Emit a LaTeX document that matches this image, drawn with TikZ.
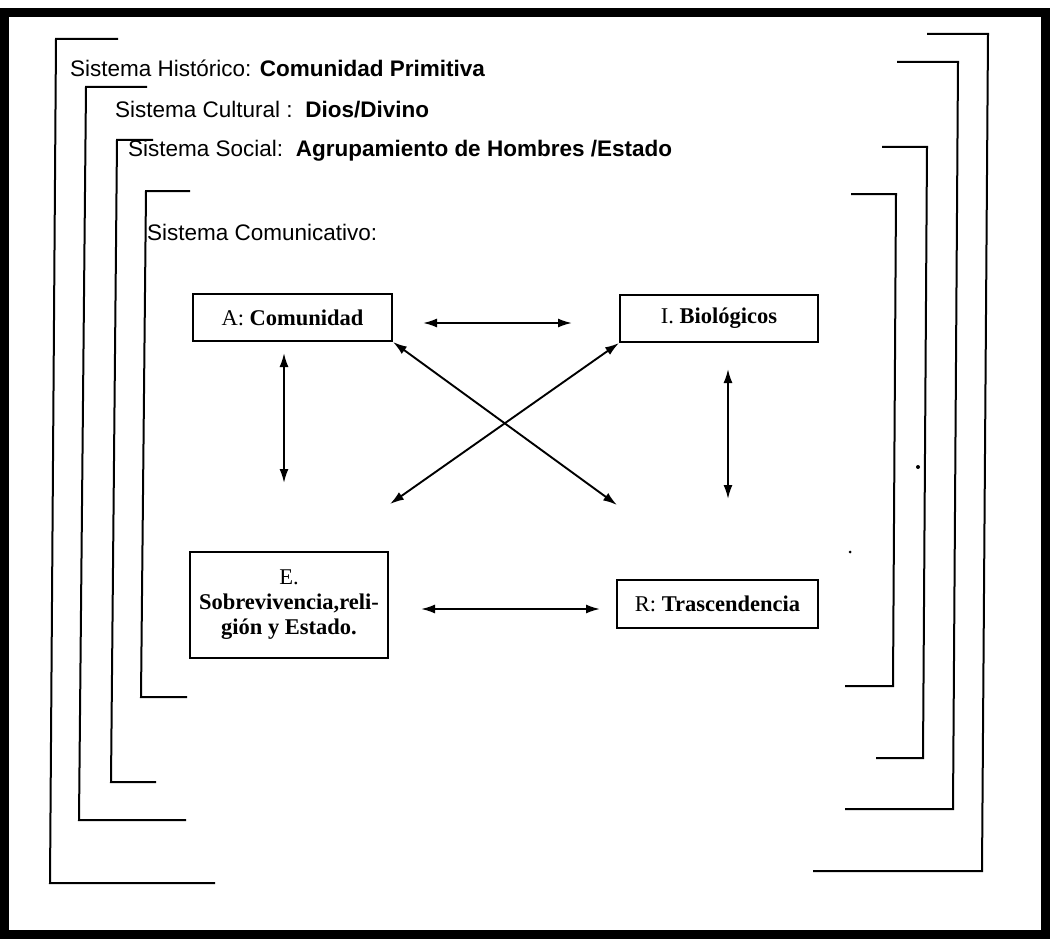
\documentclass[tikz,border=0pt]{standalone}
\usepackage{fontspec}
\setmainfont{Liberation Serif}
\setsansfont{Liberation Sans}
\usetikzlibrary{arrows.meta}

\begin{document}
\begin{tikzpicture}[
		x=1pt, y=-1pt,
		caja/.style={draw, line width=2pt, inner sep=0pt, align=center,
			font=\fontsize{22.5}{25}\selectfont},
		titulo/.style={anchor=base west, inner sep=0pt,
			font=\sffamily\fontsize{22.5}{27}\selectfont},
		flecha/.style={{Latex[length=14pt,width=9pt]}-{Latex[length=14pt,width=9pt]},
			line width=1.9pt},
		corchete/.style={line width=2pt}
		]
		\useasboundingbox (0,0) rectangle (1055,939);
		\draw[line width=9pt] (4.5,12.5) rectangle (1045,934);

		% corchetes de los sistemas (izquierda)
		\draw[corchete] (118,39) -- (56,39) -- (50,883) -- (215,883);
		\draw[corchete] (147,87) -- (86,87) -- (79,820) -- (186,820);
		\draw[corchete] (153,140) -- (117,140) -- (111,782) -- (156,782);
		\draw[corchete] (190,191) -- (146,191) -- (141,697) -- (187,697);
		% corchetes de los sistemas (derecha)
		\draw[corchete] (927,34) -- (988,34) -- (982,871) -- (813,871);
		\draw[corchete] (897,62) -- (958,62) -- (953,809) -- (845,809);
		\draw[corchete] (882,147) -- (927,147) -- (923,758) -- (876,758);
		\draw[corchete] (851,194) -- (896,194) -- (893,686) -- (845,686);

		\node[titulo] (hist) at (70,77) {Sistema Histórico: \textbf{Comunidad Primitiva}};
		\node[titulo] (cult) at (115,118) {Sistema Cultural :\ \ \textbf{Dios/Divino}};
		\node[titulo] (soc) at (128,157) {Sistema Social:\ \ \textbf{Agrupamiento de Hombres /Estado}};
		\node[titulo] (com) at (147,240) {Sistema Comunicativo:};

		\node[caja, minimum width=199pt, minimum height=47pt] (A) at (292.5,317.5) {A: \textbf{Comunidad}};
		\node[caja, minimum width=198pt, minimum height=47pt] (I) at (719,318.5) {I. \textbf{Biológicos}};
		\node[caja, minimum width=198pt, minimum height=106pt] (E) at (289,605)
			{E.\\ \textbf{Sobrevivencia,reli-}\\ \textbf{gión y Estado.}};
		\node[caja, minimum width=201pt, minimum height=48pt] (R) at (717.5,604) {R: \textbf{Trascendencia}};

		\coordinate (xl) at (390,504);
		\coordinate (xr) at (617,505);

		\draw[flecha, shorten <=30pt, shorten >=47pt] ([yshift=-5.5pt]A.east) -- ([yshift=-4.5pt]I.west);
		\draw[flecha, shorten <=32pt, shorten >=16pt] ([yshift=-4pt]E.east) -- ([yshift=-5pt]R.west);
		\draw[flecha, shorten <=11pt, shorten >=68pt] ([xshift=-8.5pt]A.south) -- ([xshift=-5pt]E.north);
		\draw[flecha, shorten <=26pt, shorten >=80pt] ([xshift=9pt]I.south) -- ([xshift=10.5pt]R.north);
		\draw[flecha] (A.south east) -- (xr);
		\draw[flecha] (I.south west) -- (xl);

		\fill (918,467) circle (2);
		\fill (850,552) circle (1.5);
\end{tikzpicture}
\end{document}
